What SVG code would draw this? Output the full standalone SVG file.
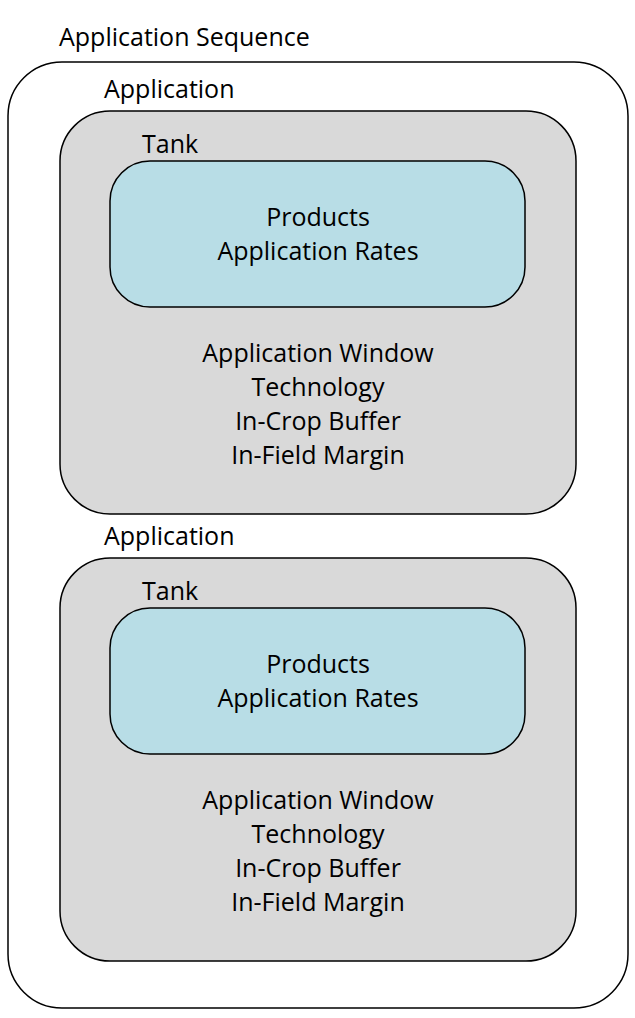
<svg xmlns="http://www.w3.org/2000/svg" width="635" height="1018" viewBox="0 0 635 1018">
<style>
text{font-family:"Open Sans","Noto Sans","Liberation Sans",sans-serif;font-size:25px;fill:#000}
.c{text-anchor:middle}
.outer{fill:#fff;stroke:#000;stroke-width:1.5}
.app{fill:#d9d9d9;stroke:#000;stroke-width:1.5}
.tank{fill:#b8dde6;stroke:#000;stroke-width:1.5}
</style>
<rect width="635" height="1018" fill="#fff"/>
<g id="sequence">
<rect class="outer" x="8" y="62" width="620" height="946" rx="54" ry="54"/>
<text x="59" y="46">Application Sequence</text>
</g>
<g id="application1">
<text x="104" y="98">Application</text>
<rect class="app" x="60" y="111" width="516" height="403" rx="50" ry="50"/>
<text class="c" x="318" y="362">Application Window</text>
<text class="c" x="318" y="396">Technology</text>
<text class="c" x="318" y="430">In-Crop Buffer</text>
<text class="c" x="318" y="464">In-Field Margin</text>
</g>
<g id="tank1">
<text x="142" y="153">Tank</text>
<rect class="tank" x="110" y="161" width="415" height="146" rx="40" ry="40"/>
<text class="c" x="318" y="226">Products</text>
<text class="c" x="318" y="260">Application Rates</text>
</g>
<g id="application2">
<text x="104" y="545">Application</text>
<rect class="app" x="60" y="558" width="516" height="403" rx="50" ry="50"/>
<text class="c" x="318" y="809">Application Window</text>
<text class="c" x="318" y="843">Technology</text>
<text class="c" x="318" y="877">In-Crop Buffer</text>
<text class="c" x="318" y="911">In-Field Margin</text>
</g>
<g id="tank2">
<text x="142" y="600">Tank</text>
<rect class="tank" x="110" y="608" width="415" height="146" rx="40" ry="40"/>
<text class="c" x="318" y="673">Products</text>
<text class="c" x="318" y="707">Application Rates</text>
</g>
<g id="connectors"></g>
</svg>
